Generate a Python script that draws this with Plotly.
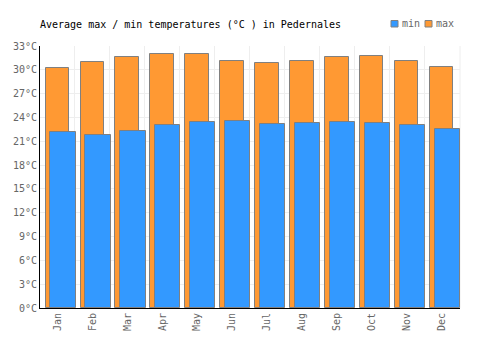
import plotly.graph_objects as go

months = ["Jan", "Feb", "Mar", "Apr", "May", "Jun", "Jul", "Aug", "Sep", "Oct", "Nov", "Dec"]
max_temps = [30.2, 31.0, 31.6, 32.0, 32.0, 31.1, 30.8, 31.1, 31.6, 31.7, 31.1, 30.3]
min_temps = [22.2, 21.8, 22.3, 23.1, 23.4, 23.6, 23.2, 23.3, 23.4, 23.3, 23.1, 22.6]
y_ticks = list(range(0, 34, 3))
y_labels = [f"{v}°C" for v in y_ticks]

FONT = "DejaVu Sans Mono"
C_MAX = "#FF9933"
C_MIN = "#3399FF"
EDGE = "#808080"

fig = go.Figure()
fig.add_trace(go.Bar(
    x=months, y=max_temps, name="max",
    marker=dict(color=C_MAX, line=dict(color=EDGE, width=1)),
    width=0.67, offset=-0.34,
))
fig.add_trace(go.Bar(
    x=months, y=min_temps, name="min",
    marker=dict(color=C_MIN, line=dict(color=EDGE, width=1)),
    width=0.72, offset=-0.2,
))

fig.update_layout(
    width=500, height=350,
    margin=dict(l=40, r=40, t=46, b=42, autoexpand=False),
    paper_bgcolor="white", plot_bgcolor="white",
    barmode="overlay",
    font=dict(family=FONT, size=10, color="#666666"),
    title=dict(text="Average max / min temperatures (°C ) in Pedernales",
               x=40/500, xanchor="left", xref="container",
               y=1 - 24/350, yanchor="middle",
               font=dict(family=FONT, size=10, color="#000000")),
    showlegend=False,
    bargap=0,
)
fig.update_xaxes(
    type="category", tickson="boundaries", showgrid=True, gridcolor="#EEEEEE",
    showline=True, linecolor="#000000", linewidth=1, ticks="", tickangle=-90,
    tickfont=dict(family=FONT, size=10, color="#666666"),
)
fig.update_yaxes(
    range=[0, 33], tickvals=y_ticks, ticktext=y_labels, showgrid=True, gridcolor="#EEEEEE",
    showline=True, linecolor="#000000", linewidth=1, ticks="", zeroline=False,
    tickfont=dict(family=FONT, size=10, color="#666666"),
)
fig.add_shape(type="line", xref="paper", yref="paper", x0=1, x1=1, y0=0, y1=1,
              line=dict(color="#EEEEEE", width=1), layer="below")

# Legend (drawn manually to match the compact reference legend)
legend_items = [("min", C_MIN, 0.8357), ("max", C_MAX, 0.9167)]
for label, color, lx in legend_items:
    fig.add_shape(type="rect", xref="paper", yref="paper",
                  x0=lx, x1=lx + 0.0167, y0=1.0725, y1=1.0973,
                  fillcolor=color, line=dict(color=EDGE, width=1))
    fig.add_annotation(text=label, xref="paper", yref="paper", x=lx + 0.022, y=1.085,
                       xanchor="left", yanchor="middle", showarrow=False,
                       font=dict(family=FONT, size=10, color="#666666"))

fig.write_html("out.html")
